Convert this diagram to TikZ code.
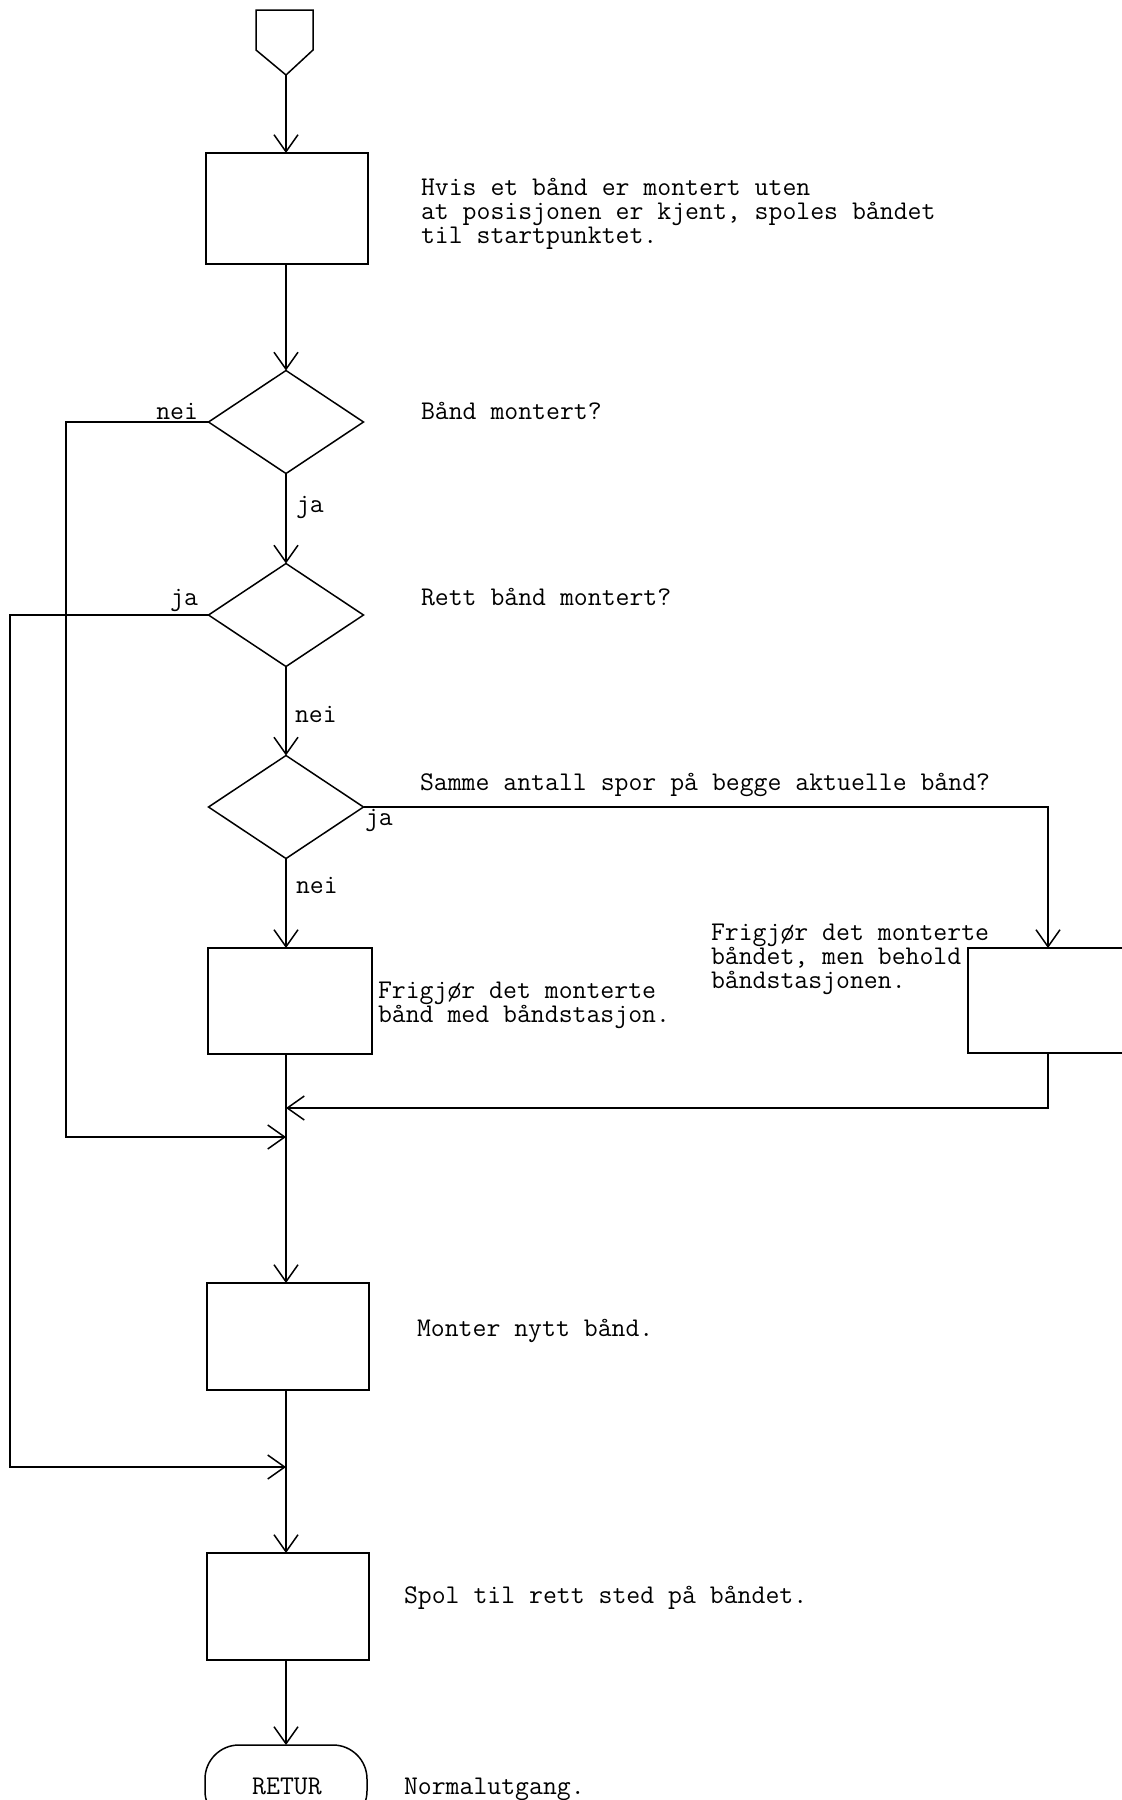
\documentclass[tikz,border=0pt]{standalone}
\usepackage{fontspec}
\usetikzlibrary{arrows.meta,shapes.geometric}
\begin{document}
\begin{tikzpicture}[x=1pt,y=-1pt,
  every node/.style={inner sep=0pt,outer sep=0pt},
  line/.style={line width=1.5pt,line join=miter},
  flow/.style={line, -{Straight Barb[length=17pt,width=24pt,line width=1.5pt]}},
  proc/.style={draw,line width=1.5pt,rectangle,minimum width=162pt,minimum height=107pt},
  dec/.style={draw,line width=1.5pt,diamond,minimum width=155pt,minimum height=103pt},
  term/.style={draw,line width=1.5pt,rectangle,rounded corners=34pt,minimum width=162pt,minimum height=80pt},
  txt/.style={anchor=base west,align=left,font=\ttfamily\fontsize{27}{23.8}\selectfont},
  lab/.style={font=\ttfamily\fontsize{27}{23.8}\selectfont}]
\useasboundingbox (0,0) rectangle (1122,1800);
\fill[white] (0,0) rectangle (1122,1800);

% start connector (pentagon)
\draw[line] (256,10) -- (313,10) -- (313,50) -- (286,75) -- (256,50) -- cycle;
\coordinate (stip) at (286,75);

% boxes and decisions
\node[proc,minimum height=111pt] (b1) at (287,208.5) {};
\node[dec] (d1) at (286,422) {};
\node[dec] (d2) at (286,615) {};
\node[dec] (d3) at (286,807) {};
\node[proc,minimum width=164pt,minimum height=106pt] (b2) at (290,1001) {};
\node[proc,minimum width=160pt,minimum height=105pt] (b3) at (1048,1000.5) {};
\node[proc] (b4) at (288,1336.5) {};
\node[proc] (b5) at (288,1606.5) {};
\node[term] (ret) at (286,1785) {};
\node[lab,anchor=base] at (287,1794) {RETUR};

% junction coordinates on the main axis
\coordinate (j1) at (286,1108);
\coordinate (j2) at (286,1137);
\coordinate (j3) at (286,1467);

% main flow
\draw[flow] (stip) -- (b1.north -| stip);
\draw[flow] (b1.south -| d1.north) -- (d1.north);
\draw[flow] (d1.south) -- (d2.north);
\draw[flow] (d2.south) -- (d3.north);
\draw[flow] (d3.south) -- (b2.north -| d3.south);
\draw[line] (b2.south -| j1) -- (j1);
\draw[flow] (j1) -- (b4.north -| j1);
\draw[flow] (b4.south -| j3) -- (b5.north -| j3);
\draw[flow] (b5.south -| j3) -- (ret.north -| j3);

% side branches
\draw[flow] (d3.east) -| (b3.north);
\draw[flow] (b3.south) |- (j1);
\draw[flow] (d1.west) -| (66,1137) -- (j2);
\draw[flow] (d2.west) -| (10,1467) -- (j3);

% branch labels
\node[lab,anchor=base east] at (198,419) {nei};
\node[lab,anchor=base west] at (296,512) {ja};
\node[lab,anchor=base east] at (198,605) {ja};
\node[lab,anchor=base west] at (295,722) {nei};
\node[lab,anchor=base west] at (365,825) {ja};
\node[lab,anchor=base west] at (296,893) {nei};

% descriptive texts (base anchor = baseline of last line)
\node[txt] (t1) at (421,243) {Hvis et bånd er montert uten\\at posisjonen er kjent, spoles båndet\\til startpunktet.};
\node[txt] (t2) at (421,419) {Bånd montert?};
\node[txt] (t3) at (421,605) {Rett bånd montert?};
\node[txt] (t4) at (420,790) {Samme antall spor på begge aktuelle bånd?};
\node[txt] (t5) at (378,1022) {Frigjør det monterte\\bånd med båndstasjon.};
\node[txt] (t6) at (711,988) {Frigjør det monterte\\båndet, men behold\\båndstasjonen.};
\node[txt] (t7) at (417,1336) {Monter nytt bånd.};
\node[txt] (t8) at (404,1603) {Spol til rett sted på båndet.};
\node[txt] (t9) at (404,1794) {Normalutgang.};
\end{tikzpicture}
\end{document}
